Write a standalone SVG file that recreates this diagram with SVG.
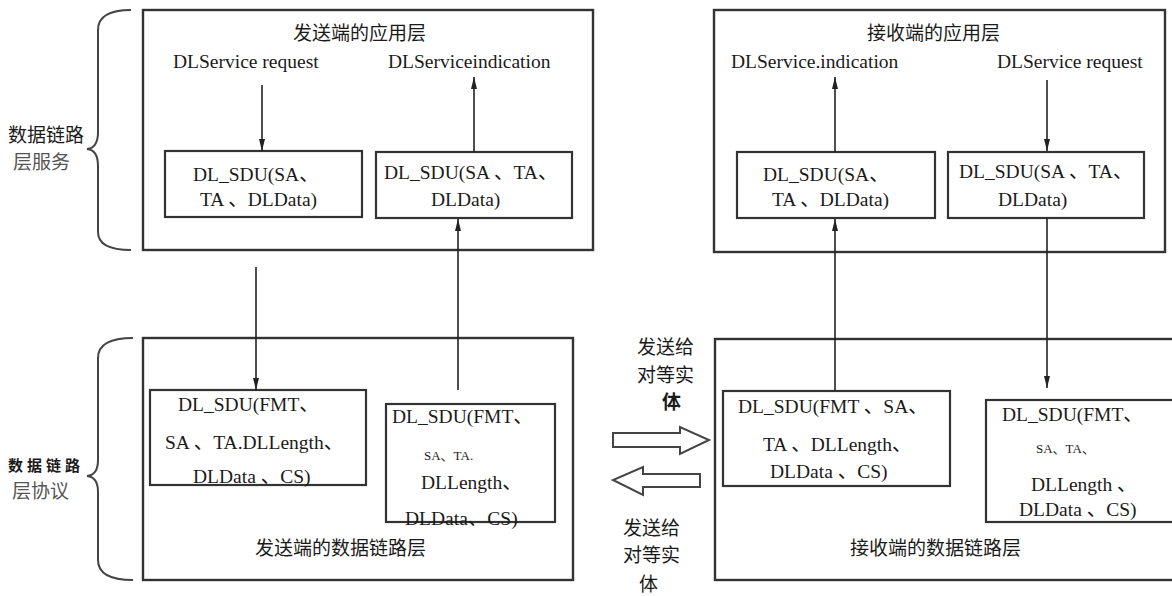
<svg xmlns="http://www.w3.org/2000/svg" width="1172" height="596" viewBox="0 0 1172 596">
  <style>
    .layer { fill: none; stroke: #333; stroke-width: 2.4; }
    .unit { fill: #fff; stroke: #333; stroke-width: 2.2; }
    .brace { fill: none; stroke: #444; stroke-width: 2; }
    .wire { fill: none; stroke: #222; stroke-width: 1.6; }
    .hollow { fill: #fff; stroke: #444; stroke-width: 2; stroke-linejoin: miter; }
    .en { font-family: "Liberation Serif", "Times New Roman", "DejaVu Serif", "Noto Sans CJK SC", serif; font-size: 19.5px; fill: #1a1a1a; }
    .sm { font-family: "Liberation Serif", "Times New Roman", "DejaVu Serif", "Noto Sans CJK SC", serif; font-size: 13px; fill: #1a1a1a; }
    .zh { font-family: "Noto Sans CJK SC", "Noto Sans", sans-serif; font-size: 19px; fill: #1a1a1a; }
    .zhg { font-family: "Noto Sans CJK SC", "Noto Sans", sans-serif; font-size: 19px; fill: #555; }
    .zhb { font-family: "Noto Sans CJK SC", "Noto Sans", sans-serif; font-size: 15px; font-weight: bold; fill: #1a1a1a; letter-spacing: 4px; }
  </style>
  <defs>
    <marker id="tip" viewBox="0 0 12 6" refX="12" refY="3" markerWidth="12" markerHeight="6" markerUnits="userSpaceOnUse" orient="auto">
      <path d="M0,0 L12,3 L0,6 z" fill="#222"/>
    </marker>
  </defs>

  <rect width="1172" height="596" fill="#fff"/>

  <!-- side labels with braces -->
  <g id="label-service">
    <path class="brace" d="M131,10 Q98,10 98,30 L98,132 Q98,148 87,149 Q98,150 98,166 L98,232 Q98,250 131,250"/>
    <text class="zh" x="8" y="142">数据链路</text>
    <text class="zhg" x="13" y="169">层服务</text>
  </g>
  <g id="label-protocol">
    <path class="brace" d="M133,338 Q98,338 98,358 L98,460 Q98,475 87,476 Q98,477 98,492 L98,560 Q98,580 133,580"/>
    <text class="zhb" x="8" y="471">数据链路</text>
    <text class="zhg" x="12" y="498">层协议</text>
  </g>

  <!-- sender application layer -->
  <g id="send-app">
    <rect class="layer" x="143" y="10" width="450" height="240"/>
    <text class="zh" x="293" y="40">发送端的应用层</text>
    <text class="en" x="173" y="68">DLService request</text>
    <text class="en" x="388" y="68">DLServiceindication</text>
  </g>
  <g id="send-app-req">
    <rect class="unit" x="165" y="151" width="197" height="66"/>
    <text class="en" x="193" y="181">DL_SDU(SA、</text>
    <text class="en" x="200" y="206">TA 、DLData)</text>
  </g>
  <g id="send-app-ind">
    <rect class="unit" x="376" y="152" width="196" height="66"/>
    <text class="en" x="384" y="179">DL_SDU(SA 、TA、</text>
    <text class="en" x="431" y="206">DLData)</text>
  </g>

  <!-- receiver application layer -->
  <g id="recv-app">
    <rect class="layer" x="714" y="10" width="451" height="242"/>
    <text class="zh" x="867" y="40">接收端的应用层</text>
    <text class="en" x="731" y="68">DLService.indication</text>
    <text class="en" x="997" y="68">DLService request</text>
  </g>
  <g id="recv-app-ind">
    <rect class="unit" x="737" y="152" width="198" height="66"/>
    <text class="en" x="763" y="181">DL_SDU(SA、</text>
    <text class="en" x="772" y="206">TA 、DLData)</text>
  </g>
  <g id="recv-app-req">
    <rect class="unit" x="948" y="152" width="196" height="66"/>
    <text class="en" x="959" y="178">DL_SDU(SA 、TA、</text>
    <text class="en" x="998" y="206">DLData)</text>
  </g>

  <!-- sender data link layer -->
  <g id="send-dl">
    <rect class="layer" x="143" y="338" width="430" height="242"/>
    <text class="zh" x="255" y="555">发送端的数据链路层</text>
  </g>
  <g id="send-dl-out">
    <rect class="unit" x="150" y="390" width="216" height="95"/>
    <text class="en" x="178" y="411">DL_SDU(FMT、</text>
    <text class="en" x="165" y="449">SA 、TA.DLLength、</text>
    <text class="en" x="193" y="483">DLData 、CS)</text>
  </g>
  <g id="send-dl-in">
    <rect class="unit" x="386" y="404" width="169" height="118"/>
    <text class="en" x="392" y="423">DL_SDU(FMT、</text>
    <text class="sm" x="424" y="460">SA、TA.</text>
    <text class="en" x="421" y="489">DLLength、</text>
    <text class="en" x="405" y="525">DLData、CS)</text>
  </g>

  <!-- receiver data link layer -->
  <g id="recv-dl">
    <rect class="layer" x="715" y="339" width="470" height="241"/>
    <text class="zh" x="850" y="555">接收端的数据链路层</text>
  </g>
  <g id="recv-dl-in">
    <rect class="unit" x="723" y="391" width="227" height="95"/>
    <text class="en" x="738" y="413">DL_SDU(FMT 、SA、</text>
    <text class="en" x="763" y="451">TA 、DLLength、</text>
    <text class="en" x="770" y="478">DLData 、CS)</text>
  </g>
  <g id="recv-dl-out">
    <rect class="unit" x="986" y="400" width="200" height="122"/>
    <text class="en" x="1002" y="421">DL_SDU(FMT、</text>
    <text class="sm" x="1036" y="453">SA、TA、</text>
    <text class="en" x="1031" y="491">DLLength 、</text>
    <text class="en" x="1019" y="516">DLData 、CS)</text>
  </g>

  <!-- peer transfer between the two data link entities -->
  <g id="peer-forward">
    <text class="zh" x="637" y="354">发送给</text>
    <text class="zh" x="637" y="382">对等实</text>
    <text class="zh" x="662" y="409" font-weight="bold">体</text>
    <path class="hollow" d="M613,433 L680,433 L680,427 L709,440 L680,454 L680,447 L613,447 z"/>
  </g>
  <g id="peer-back">
    <path class="hollow" d="M700,474 L643,474 L643,467 L613,480 L643,495 L643,487 L700,487 z"/>
    <text class="zh" x="623" y="535">发送给</text>
    <text class="zh" x="623" y="562">对等实</text>
    <text class="zh" x="639" y="591" font-size="18">体</text>
  </g>

  <!-- service primitives flowing between layers -->
  <g id="connectors">
    <line class="wire" x1="262" y1="85" x2="262" y2="151" marker-end="url(#tip)"/>
    <line class="wire" x1="474" y1="152" x2="474" y2="77" marker-end="url(#tip)"/>
    <line class="wire" x1="256" y1="267" x2="256" y2="390" marker-end="url(#tip)"/>
    <line class="wire" x1="458" y1="390" x2="458" y2="219" marker-end="url(#tip)"/>
    <line class="wire" x1="835" y1="391" x2="835" y2="219" marker-end="url(#tip)"/>
    <line class="wire" x1="835" y1="152" x2="835" y2="77" marker-end="url(#tip)"/>
    <line class="wire" x1="1047" y1="80" x2="1047" y2="151" marker-end="url(#tip)"/>
    <line class="wire" x1="1047" y1="218" x2="1047" y2="388" marker-end="url(#tip)"/>
  </g>
</svg>
